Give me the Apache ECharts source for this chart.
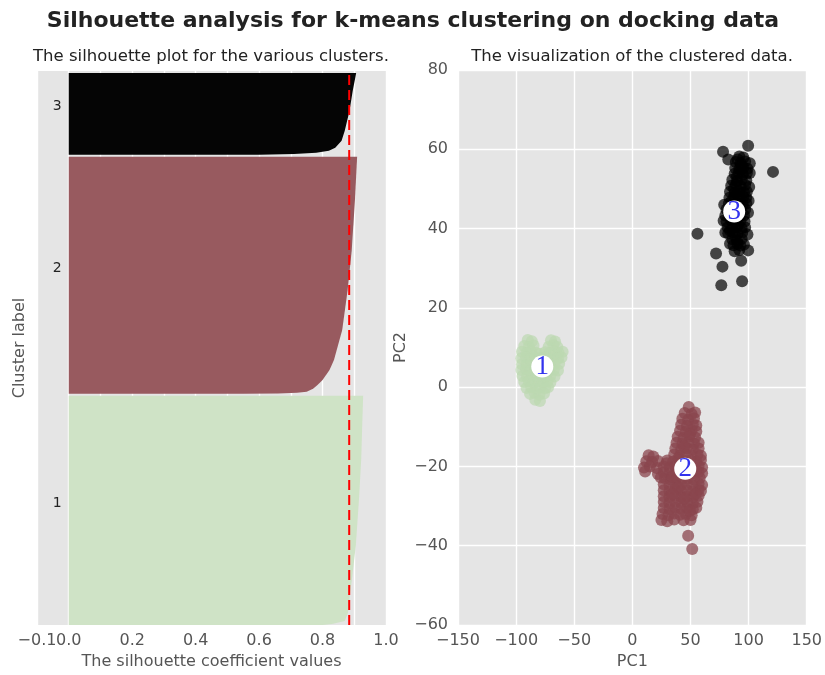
<!DOCTYPE html>
<html>
<head>
<meta charset="utf-8">
<script src="https://cdn.jsdelivr.net/npm/echarts@6/dist/echarts.min.js"></script>
<style>
  html, body { margin: 0; padding: 0; background: #fff; }
  #chart { width: 825px; height: 675px; }
</style>
</head>
<body>
<div id="chart"></div>
<script>
// ---- silhouette plot data ----
const clusterNames = ['1', '2', '3'];
const clusterSizes = [1150, 1190, 410];
const clusterGap = 10;
const silhouetteMax = 2780;
const avgSilhouette = 0.884;
const silTicks = [-0.1, 0, 0.2, 0.4, 0.6, 0.8, 1.0];

// sorted silhouette coefficients sampled at ranks inside each cluster (lowest first)
const silRanks1  = [0, 5, 20, 60, 135, 235, 400, 635, 835, 1000, 1150];
const silValues1 = [0.80, 0.83, 0.87, 0.88, 0.885, 0.893, 0.905, 0.915, 0.922, 0.925, 0.928];
const silRanks2  = [0, 2, 5, 10, 25, 45, 70, 120, 170, 320, 520, 720, 970, 1190];
const silValues2 = [0.55, 0.66, 0.72, 0.75, 0.77, 0.785, 0.80, 0.822, 0.836, 0.862, 0.879, 0.892, 0.902, 0.909];
const silRanks3  = [0, 3, 10, 20, 35, 70, 120, 220, 320, 410];
const silValues3 = [0.60, 0.71, 0.78, 0.82, 0.84, 0.86, 0.87, 0.885, 0.895, 0.906];

// ---- PCA scatter data ----
const pcPoints1 = [
  [-90, 11.9], [-86.5, 11.6], [-70, 11.8], [-66.5, 11.5],
  [-93, 10.4], [-89, 10.1], [-85, 10.5], [-72, 10.2], [-68, 10.6], [-64.5, 10.1],
  [-95, 8.9], [-91, 8.6], [-87, 9.0], [-83, 8.7], [-79.5, 8.4], [-75, 8.8], [-71, 8.6], [-67, 9.0], [-63.5, 8.7], [-60, 8.9],
  [-95.5, 7.3], [-91.5, 7.5], [-87.5, 7.1], [-83.5, 7.4], [-79.5, 7.2], [-75.5, 7.5], [-71.5, 7.1], [-67.5, 7.4], [-64, 7.2], [-61, 7.5],
  [-95, 5.8], [-91, 5.6], [-87, 6.0], [-83, 5.7], [-79, 5.9], [-75, 5.6], [-71, 6.0], [-67, 5.7], [-63, 5.9],
  [-95.5, 4.3], [-91.5, 4.5], [-87.5, 4.1], [-83.5, 4.4], [-79.5, 4.2], [-75.5, 4.5], [-71.5, 4.1], [-67.5, 4.4], [-64, 4.2],
  [-94.5, 2.8], [-90.5, 2.6], [-86.5, 3.0], [-82.5, 2.7], [-78.5, 2.9], [-74.5, 2.6], [-70.5, 3.0], [-67, 2.7],
  [-93, 1.3], [-89, 1.5], [-85, 1.1], [-81, 1.4], [-77, 1.2], [-73, 1.5], [-70.5, 1.2],
  [-91, -0.2], [-87, 0.0], [-83, -0.4], [-79, -0.1], [-75, -0.3], [-72.5, 0.0],
  [-88, -1.7], [-84, -1.5], [-80, -1.9], [-76, -1.6],
  [-83.5, -3.2], [-79.5, -3.5]
];
const pcPoints2 = [
  [48.5, -5.0],
  [45, -6.5], [51, -6.8], [54, -6.4],
  [43, -8.0], [48, -8.3], [53, -7.9],
  [42, -9.5], [47, -9.8], [52, -9.4], [55, -9.7],
  [41, -11.0], [46, -11.3], [51, -10.9], [55, -11.2],
  [39, -12.5], [44, -12.8], [49, -12.4], [54, -12.7],
  [38, -14.0], [43, -14.3], [48, -13.9], [53, -14.2], [57, -14.0],
  [37, -15.5], [42, -15.8], [47, -15.4], [52, -15.7], [57, -15.5],
  [36, -17.0], [41, -17.3], [46, -16.9], [51, -17.2], [56, -17.0], [59, -17.3], [14, -17.2], [18, -17.5],
  [30, -18.5], [35, -18.8], [40, -18.4], [45, -18.7], [50, -18.5], [55, -18.8], [59, -18.4], [12, -18.7], [17, -18.9], [22, -18.6],
  [27, -20.0], [32, -20.3], [37, -19.9], [42, -20.2], [47, -20.0], [52, -20.3], [57, -19.9], [60, -20.2], [10, -20.3], [15, -20.0], [21, -20.4],
  [27, -21.5], [32, -21.8], [37, -21.4], [42, -21.7], [47, -21.5], [52, -21.8], [57, -21.4], [60, -21.7], [11, -21.3], [22, -21.9],
  [28, -23.0], [33, -23.3], [38, -22.9], [43, -23.2], [48, -23.0], [53, -23.3], [58, -22.9],
  [27, -24.5], [32, -24.8], [37, -24.4], [42, -24.7], [47, -24.5], [52, -24.8], [57, -24.4], [60, -24.7],
  [27, -26.0], [32, -26.3], [37, -25.9], [42, -26.2], [47, -26.0], [52, -26.3], [57, -25.9], [59, -26.2],
  [27, -27.5], [32, -27.8], [37, -27.4], [42, -27.7], [47, -27.5], [52, -27.8], [57, -27.4],
  [27, -29.0], [32, -29.3], [37, -28.9], [42, -29.2], [47, -29.0], [52, -29.3], [56, -28.9],
  [27, -30.5], [32, -30.8], [37, -30.4], [42, -30.7], [47, -30.5], [52, -30.8], [55, -30.4],
  [26, -32.0], [31, -32.3], [36, -31.9], [41, -32.2], [46, -32.0], [51, -32.3],
  [25, -33.5], [30, -33.8], [36, -33.4], [44, -33.6], [50, -33.5],
  [29.5, -19.2], [34.5, -22.6], [39.5, -25.3], [44.5, -28.1], [49.5, -31.2], [54.5, -21.0],
  [34.5, -27.0], [39.5, -17.9], [44.5, -15.0], [49.5, -11.8], [24.5, -22.8], [54.5, -26.9],
  [48, -37.5], [51.5, -40.8]
];
const pcPoints3 = [
  [92, 58.2], [95.5, 57.9],
  [89, 56.8], [93, 56.5], [97, 56.9],
  [88.5, 55.3], [92, 55.0], [95.5, 55.4], [99, 55.1],
  [88, 53.8], [91.5, 54.1], [95, 53.7], [98.5, 54.0],
  [86, 52.3], [90, 52.0], [94, 52.4], [98, 52.1],
  [85, 50.8], [89, 51.1], [93, 50.7], [97, 51.0],
  [84, 49.3], [88, 49.0], [92, 49.4], [96, 49.1], [98.5, 49.3],
  [83.5, 47.8], [87.5, 48.1], [91.5, 47.7], [95.5, 48.0], [98, 47.8],
  [83, 46.3], [87, 46.0], [91, 46.4], [95, 46.1], [98, 46.3],
  [81, 44.8], [85, 45.1], [89, 44.7], [93, 45.0], [97, 44.8],
  [80, 43.3], [84, 43.0], [88, 43.4], [92, 43.1], [96, 43.3],
  [81, 41.8], [85, 42.1], [89, 41.7], [93, 42.0], [96.5, 41.8],
  [82, 40.3], [86, 40.0], [90, 40.4], [94, 40.1], [97, 40.3],
  [82.5, 38.8], [86.5, 39.1], [90.5, 38.7], [94.5, 39.0],
  [86, 37.3], [90, 37.0], [94, 37.4],
  [87, 35.8], [90.5, 36.1], [93, 35.7],
  [88, 34.3], [92, 34.6],
  [90.5, 57.4], [94, 55.9], [90, 53.1], [87.5, 50.1], [91, 48.6], [85.5, 47.0],
  [89, 45.5], [83, 44.0], [87, 42.6], [91, 41.0], [84, 39.5], [88.5, 38.0],
  [100.5, 50.5], [100, 47.0], [99.5, 44.0], [79, 46.0], [78.5, 42.0], [80, 39.0],
  [99, 38.5], [84, 36.2], [96, 36.0], [101, 56.5],
  [99.6, 60.9], [78, 59.4], [82.5, 57.4], [121, 54.3], [101, 54.0], [56, 38.7],
  [72, 33.7], [99.6, 34.5], [93.6, 31.9], [77.5, 30.4], [76.5, 25.7], [94.4, 26.7]
];
const clusterCenters = [[-77.5, 5.2], [45.5, -20.6], [87.6, 44.3]];

// ---- styling ----
const FONT = 'DejaVu Sans';
const silColors = ['#cfe3c6', '#985a5f', '#050505'];
const silCurves = [[silRanks1, silValues1], [silRanks2, silValues2], [silRanks3, silValues3]];
const yLowers = [];
(function () {
  let y = 0;
  clusterSizes.forEach(n => { yLowers.push(y); y += n + clusterGap; });
})();

const minus = v => String(v).replace('-', '\u2212');
const silFmt = v => (v < 0 ? '\u2212' : '') + Math.abs(v).toFixed(1);
const tickLabel = { color: '#555', fontSize: 16, fontFamily: FONT };
const axisName = { color: '#555', fontSize: 16, fontFamily: FONT };
const gridLine = { show: true, lineStyle: { color: '#ffffff', width: 1.4 } };
const LABEL_MARGIN = 8;

const chart = echarts.init(document.getElementById('chart'), null, { renderer: 'canvas' });

chart.setOption({
  animation: false,
  backgroundColor: '#ffffff',
  graphic: [
    { type: 'text', x: 413, y: 21, style: { text: 'Silhouette analysis for k-means clustering on docking data', textAlign: 'center', textVerticalAlign: 'middle', font: 'bold 22px "DejaVu Sans"', fill: '#222' } },
    { type: 'text', x: 211, y: 57, style: { text: 'The silhouette plot for the various clusters.', textAlign: 'center', textVerticalAlign: 'middle', font: '16.5px "DejaVu Sans"', fill: '#222' } },
    { type: 'text', x: 632, y: 57, style: { text: 'The visualization of the clustered data.', textAlign: 'center', textVerticalAlign: 'middle', font: '16.5px "DejaVu Sans"', fill: '#222' } }
  ],
  grid: [
    { left: 37, top: 71, width: 349, height: 556, show: true, backgroundColor: '#e5e5e5', borderWidth: 0 },
    { left: 458, top: 70, width: 349, height: 557, show: true, backgroundColor: '#e5e5e5', borderWidth: 0 }
  ],
  xAxis: [
    {
      gridIndex: 0, type: 'value', min: -0.1, max: 1.0, interval: 0.1,
      axisLine: { show: false }, axisTick: { show: false },
      // the leftmost tick label overlaps its neighbour, so it is drawn by the custom series below
      axisLabel: Object.assign({ customValues: silTicks.slice(1), margin: LABEL_MARGIN, formatter: silFmt }, tickLabel),
      splitLine: Object.assign({ customValues: silTicks }, gridLine),
      name: 'The silhouette coefficient values', nameLocation: 'middle', nameGap: 29, nameTextStyle: axisName
    },
    {
      gridIndex: 1, type: 'value', min: -150, max: 150, interval: 50,
      axisLine: { show: false }, axisTick: { show: false },
      axisLabel: Object.assign({ margin: LABEL_MARGIN, formatter: minus }, tickLabel),
      splitLine: gridLine,
      name: 'PC1', nameLocation: 'middle', nameGap: 29, nameTextStyle: axisName
    }
  ],
  yAxis: [
    {
      gridIndex: 0, type: 'value', min: 0, max: silhouetteMax,
      axisLine: { show: false }, axisTick: { show: false }, axisLabel: { show: false }, splitLine: { show: false },
      name: 'Cluster label', nameLocation: 'middle', nameGap: 9, nameRotate: 90, nameTextStyle: axisName
    },
    {
      gridIndex: 1, type: 'value', min: -60, max: 80, interval: 20,
      axisLine: { show: false }, axisTick: { show: false },
      axisLabel: Object.assign({ margin: 10, formatter: minus }, tickLabel),
      splitLine: gridLine,
      name: 'PC2', nameLocation: 'middle', nameGap: 49, nameRotate: 90, nameTextStyle: axisName
    }
  ],
  series: [
    {
      type: 'custom', xAxisIndex: 0, yAxisIndex: 0, silent: true,
      data: clusterNames.map((c, i) => [i]),
      renderItem: function (params, api) {
        const i = params.dataIndex;
        const ranks = silCurves[i][0];
        const vals = silCurves[i][1];
        const y0 = yLowers[i];
        const pts = [api.coord([0, y0])];
        ranks.forEach((r, k) => pts.push(api.coord([vals[k], y0 + r])));
        pts.push(api.coord([0, y0 + clusterSizes[i]]));
        const lab = api.coord([-0.05, y0 + clusterSizes[i] / 2]);
        const children = [
          { type: 'polygon', shape: { points: pts }, style: { fill: silColors[i] } },
          { type: 'text', x: lab[0], y: lab[1], style: { text: clusterNames[i], textAlign: 'left', textVerticalAlign: 'bottom', fill: '#222', font: '14px "DejaVu Sans"' } }
        ];
        if (i === 0) {
          const t = api.coord([silTicks[0], 0]);
          children.push({ type: 'text', x: t[0], y: t[1] + LABEL_MARGIN, style: { text: silFmt(silTicks[0]), textAlign: 'center', textVerticalAlign: 'top', fill: '#555', font: '16px "DejaVu Sans"' } });
        }
        return { type: 'group', children: children };
      }
    },
    {
      type: 'line', xAxisIndex: 0, yAxisIndex: 0, silent: true, symbol: 'none', z: 5,
      data: [[avgSilhouette, 0], [avgSilhouette, silhouetteMax]],
      lineStyle: { color: '#ff0000', width: 2, type: [10, 5] }
    },
    {
      type: 'scatter', xAxisIndex: 1, yAxisIndex: 1, silent: true, symbolSize: 12,
      data: pcPoints1, itemStyle: { color: '#bcd9b0', opacity: 0.7 }
    },
    {
      type: 'scatter', xAxisIndex: 1, yAxisIndex: 1, silent: true, symbolSize: 12,
      data: pcPoints2, itemStyle: { color: '#8a464d', opacity: 0.75 }
    },
    {
      type: 'scatter', xAxisIndex: 1, yAxisIndex: 1, silent: true, symbolSize: 12,
      data: pcPoints3, itemStyle: { color: '#000000', opacity: 0.7 }
    },
    {
      type: 'scatter', xAxisIndex: 1, yAxisIndex: 1, silent: true, symbolSize: 22, z: 6,
      data: clusterCenters, itemStyle: { color: '#ffffff', opacity: 1 },
      label: {
        show: true, position: 'inside', formatter: p => clusterNames[p.dataIndex],
        color: '#3333ee', fontSize: 27, fontFamily: 'Liberation Serif'
      }
    }
  ]
});
</script>
</body>
</html>
